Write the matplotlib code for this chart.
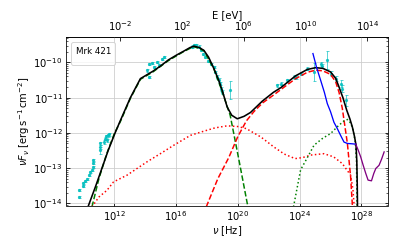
import numpy as np
import matplotlib
matplotlib.use("Agg")
import matplotlib.pyplot as plt

# ---------------- data (log10 nu [Hz], log10 nuFnu [erg s^-1 cm^-2]) ----------------
total_lognu = [10.31, 10.8, 11.2, 11.6, 12.05, 12.4, 13.04, 13.4, 13.69, 14.0, 14.5, 15.0, 15.5,
               16.0, 16.5, 16.9, 17.15, 17.5, 17.8, 18.1, 18.44, 18.75, 18.98, 19.31, 19.6, 19.96,
               20.4, 20.82, 21.58, 22.3, 22.77, 23.74, 24.5, 25.04, 25.5, 26.0, 26.33, 26.55, 26.8,
               27.05, 27.25, 27.41, 27.55, 27.65, 27.7, 27.73, 27.75]
total_logF = [-14.08, -13.5, -13.0, -12.5, -12.0, -11.64, -11.0, -10.7, -10.46, -10.38, -10.25, -10.1, -9.93,
              -9.8, -9.68, -9.58, -9.54, -9.58, -9.66, -9.85, -10.17, -10.5, -10.79, -11.27, -11.5, -11.6,
              -11.53, -11.42, -11.1, -10.85, -10.72, -10.38, -10.2, -10.15, -10.17, -10.27, -10.45, -10.7, -11.0,
              -11.36, -11.6, -11.83, -12.1, -12.35, -12.8, -13.5, -14.3]

sync_lognu = [10.55, 11.0, 11.5, 12.0, 12.4, 13.04, 13.69, 14.5, 15.5, 16.5, 17.15, 17.8, 18.44, 18.98,
              19.5, 20.06, 20.65]
sync_logF = [-14.1, -13.3, -12.6, -12.02, -11.67, -11.02, -10.48, -10.27, -9.95, -9.69, -9.55, -9.67, -10.18,
             -10.82, -11.5, -12.75, -14.1]

sync2_lognu = [10.55, 11.0, 11.52, 11.95, 12.82, 14.12, 14.98, 15.85, 16.93, 17.58, 18.5, 19.3, 20.0,
               20.55, 21.5, 22.33, 23.0, 23.7, 24.2, 24.71, 25.57, 26.2, 26.76, 27.3, 27.45, 27.55]
sync2_logF = [-14.1, -13.82, -13.63, -13.39, -13.2, -12.82, -12.59, -12.35, -12.07, -11.98, -11.86, -11.8, -11.82,
              -11.88, -12.12, -12.4, -12.6, -12.73, -12.7, -12.63, -12.59, -12.68, -12.87, -13.2, -13.6, -14.2]

ssc_lognu = [17.95, 18.7, 19.41, 20.0, 20.55, 21.03, 21.6, 22.33, 23.0, 23.74, 24.5, 25.04, 25.5, 26.0,
             26.33, 26.55, 26.76, 27.09, 27.3, 27.42]
ssc_logF = [-14.1, -13.3, -12.7, -12.1, -11.66, -11.4, -11.15, -10.92, -10.7, -10.46, -10.28, -10.22, -10.24, -10.34,
            -10.55, -10.85, -11.3, -12.3, -13.25, -14.1]

ssc2_lognu = [23.6, 24.06, 24.6, 24.93, 25.5, 26.0, 26.5, 26.87, 27.1, 27.3, 27.45, 27.6, 27.68, 27.72]
ssc2_logF = [-14.1, -13.05, -12.62, -12.35, -12.15, -12.02, -11.8, -11.66, -11.62, -11.72, -11.9, -12.25, -12.8, -14.2]

blue_lognu = [24.86, 25.1, 25.36, 25.6, 25.79, 26.0, 26.22, 26.44, 26.65, 26.87, 27.09, 27.4, 27.63]
blue_logF = [-9.75, -10.15, -10.51, -10.85, -11.17, -11.4, -11.7, -11.88, -12.07, -12.26, -12.3, -12.31, -12.32]

purple_lognu = [27.63, 27.8, 27.95, 28.1, 28.28, 28.43, 28.65, 28.8, 28.93, 29.14, 29.3, 29.47]
purple_logF = [-12.32, -12.5, -12.68, -12.9, -13.15, -13.34, -13.36, -13.15, -13.01, -12.92, -12.75, -12.54]

obs_lognu = [9.73, 9.73, 9.94, 9.99, 10.1, 10.23, 10.33, 10.4, 10.55, 10.61, 10.65, 10.65,
             11.05, 11.05, 11.09, 11.3, 11.41, 11.48, 11.56, 11.52, 11.63,
             14.12, 14.23, 14.23, 14.44, 14.55, 14.77, 14.87, 15.09, 15.2,
             17.0, 17.15, 17.3, 17.45, 17.58, 17.75, 17.9, 18.05, 18.23, 18.44, 18.55, 18.66, 18.75,
             18.83, 18.92, 18.98, 19.47,
             22.55, 22.77, 23.2, 23.63, 23.74, 24.06, 24.5, 24.93, 25.36, 25.45, 25.79, 26.0, 26.33,
             26.65, 26.76, 26.98]
obs_logF = [-13.82, -13.61, -13.51, -13.42, -13.36, -13.30, -13.20, -13.1, -13.06, -12.97, -12.85, -12.78,
            -12.30, -12.40, -12.49, -12.26, -12.16, -12.10, -12.07, -12.21, -12.04,
            -10.23, -10.04, -10.42, -10.02, -10.13, -9.99, -10.08, -9.90, -9.85,
            -9.55, -9.52, -9.52, -9.55, -9.66, -9.75, -9.85, -9.95, -10.04, -10.13, -10.27, -10.42, -10.5,
            -10.60, -10.75, -10.84, -10.79,
            -10.65, -10.6, -10.51, -10.42, -10.42, -10.32, -10.18, -10.27, -10.04, -10.1, -9.94, -10.32, -10.46,
            -10.6, -10.75, -11.08]
obs_logErr = [0.03, 0.03, 0.03, 0.03, 0.03, 0.03, 0.03, 0.03, 0.03, 0.03, 0.03, 0.03,
              0.05, 0.05, 0.1, 0.05, 0.05, 0.05, 0.05, 0.05, 0.05,
              0.03, 0.03, 0.03, 0.03, 0.03, 0.03, 0.03, 0.03, 0.03,
              0.03, 0.03, 0.03, 0.03, 0.03, 0.03, 0.03, 0.03, 0.03, 0.03, 0.03, 0.05, 0.05,
              0.05, 0.05, 0.06, 0.26,
              0.05, 0.05, 0.05, 0.05, 0.05, 0.05, 0.05, 0.25, 0.06, 0.06, 0.26, 0.08, 0.08,
              0.1, 0.1, 0.15]

source_name = "Mrk 421"
h_eV = 4.135667e-15

# ---------------- figure ----------------
fig = plt.figure(figsize=(395 / 72, 247 / 72), dpi=72)
ax = fig.add_axes([66 / 395, 1 - 205.5 / 247, (388 - 66) / 395, (205.5 - 37) / 247])

def p(a):
    return 10 ** np.asarray(a, dtype=float)

on = np.asarray(obs_lognu); of = np.asarray(obs_logF); oe = np.asarray(obs_logErr)
yv = 10 ** of
ylo = yv - 10 ** (of - oe)
yhi = 10 ** (of + oe) - yv
ax.errorbar(p(on), yv, yerr=[ylo, yhi], fmt='o', ms=2.2, color='c', ecolor='c',
            elinewidth=0.8, capsize=1.5, capthick=0.8, alpha=0.8, zorder=2)

ax.plot(p(sync_lognu), p(sync_logF), '--', color='green', lw=1.5, zorder=3)
ax.plot(p(sync2_lognu), p(sync2_logF), ':', color='red', lw=1.5, zorder=3)
ax.plot(p(ssc_lognu), p(ssc_logF), '--', color='red', lw=1.5, zorder=3)
ax.plot(p(ssc2_lognu), p(ssc2_logF), ':', color='green', lw=1.5, zorder=3)
ax.plot(p(total_lognu), p(total_logF), '-', color='black', lw=1.6, zorder=4)
ax.plot(p(blue_lognu), p(blue_logF), '-', color='blue', lw=1.3, zorder=4)
ax.plot(p(purple_lognu), p(purple_logF), '-', color='purple', lw=1.3, zorder=4)

ax.set_xscale('log')
ax.set_yscale('log')
ax.set_xlim(10 ** 8.87, 10 ** 29.72)
ax.set_ylim(10 ** -14.06, 10 ** -9.28)
ax.set_xticks([1e12, 1e16, 1e20, 1e24, 1e28])
ax.set_yticks([1e-14, 1e-13, 1e-12, 1e-11, 1e-10])
ax.grid(True, which='major', color='#cccccc', lw=0.8)
ax.tick_params(which='both', direction='in', right=True)
ax.tick_params(axis='x', which='minor', bottom=False)
ax.set_xlabel(r'$\nu$ [Hz]', fontsize=10, labelpad=1)
ax.set_ylabel(r'$\nu F_\nu$ [erg$\,$s$^{-1}\,$cm$^{-2}$]', fontsize=10, labelpad=1)

sec = ax.secondary_xaxis('top', functions=(lambda x: x * h_eV, lambda e: e / h_eV))
sec.set_xticks([1e-2, 1e2, 1e6, 1e10, 1e14])
sec.tick_params(which='both', direction='in')
sec.tick_params(which='minor', top=False)
sec.set_xlabel('E [eV]', fontsize=10, labelpad=2)

leg = ax.legend(handles=[], title=source_name, loc='upper left', title_fontsize=8.8,
                borderpad=0.45, handlelength=0)

fig.savefig('out.png', dpi=72)
